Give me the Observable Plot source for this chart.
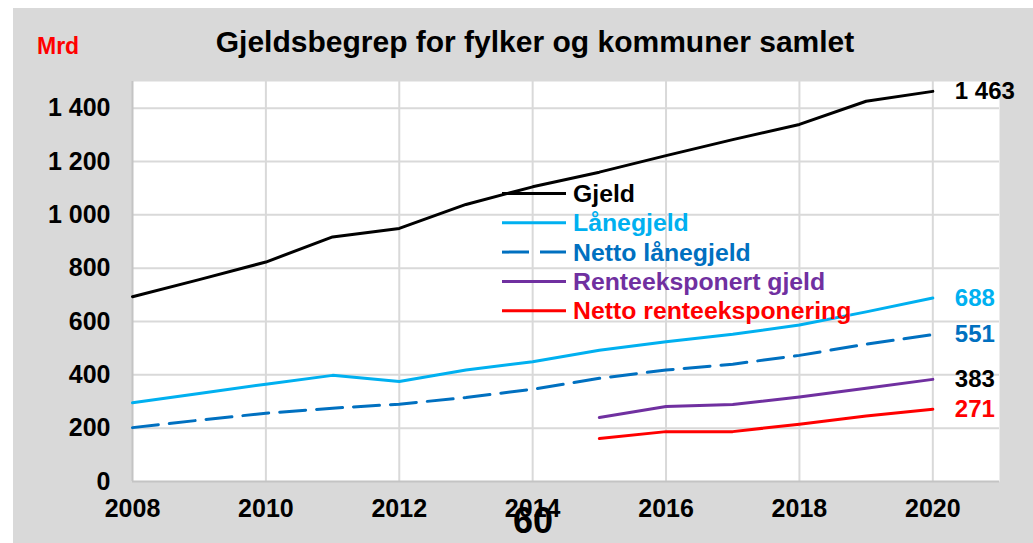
<!DOCTYPE html>
<html>
<head>
<meta charset="utf-8">
<script src="https://cdn.jsdelivr.net/npm/d3@7"></script>
<script src="https://cdn.jsdelivr.net/npm/@observablehq/plot@0.6"></script>
<style>
  html, body { margin: 0; padding: 0; background: #ffffff; }
  #wrap { position: relative; width: 1033px; height: 543px; overflow: hidden; font-family: "Liberation Sans", Arial, sans-serif; }
  #panel { position: absolute; left: 13px; top: 8px; width: 1020px; height: 535px; background: #d9d9d9; }
  #chart { position: absolute; left: 0; top: 0; }
  .abs { position: absolute; white-space: nowrap; font-weight: bold; }
  #title { left: 0; width: 1070px; text-align: center; top: 25px; font-size: 30px; color: #000; }
  #mrd { left: 37px; top: 33px; font-size: 23px; color: #ff0000; }
  #page { left: 513px; top: 500px; font-size: 36px; color: #000; }
  #legend { position: absolute; left: 0; top: 0; }
</style>
</head>
<body>
<div id="wrap">
  <div id="panel"></div>
  <div id="chart"></div>
  <div class="abs" id="title">Gjeldsbegrep for fylker og kommuner samlet</div>
  <div class="abs" id="mrd">Mrd</div>
  <div class="abs" id="page">60</div>
  <svg id="legend" width="1033" height="543"></svg>
</div>
<script>
// ---- data ----
const years = [2008, 2009, 2010, 2011, 2012, 2013, 2014, 2015, 2016, 2017, 2018, 2019, 2020];
const gjeld = [693, 757, 823, 917, 949, 1039, 1105, 1160, 1222, 1282, 1339, 1426, 1463];
const lanegjeld = [295, 330, 365, 398, 375, 418, 449, 492, 524, 552, 587, 636, 688];
const nettoLanegjeld = [202, 230, 256, 275, 290, 315, 346, 387, 418, 440, 473, 515, 551];
const renteYears = [2015, 2016, 2017, 2018, 2019, 2020];
const renteeksponert = [240, 281, 289, 317, 350, 383];
const nettoRente = [161, 187, 187, 215, 246, 271];

const seriesNames = ["Gjeld", "Lånegjeld", "Netto lånegjeld", "Renteeksponert gjeld", "Netto renteeksponering"];
const seriesColors = ["#000000", "#00b0f0", "#0070c0", "#7030a0", "#ff0000"];
const endLabelColors = ["#000000", "#00b0f0", "#0070c0", "#000000", "#ff0000"];
const xTicks = [2008, 2010, 2012, 2014, 2016, 2018, 2020];
const yTicks = [0, 200, 400, 600, 800, 1000, 1200, 1400];

// ---- build table ----
const seriesData = [
  [years, gjeld], [years, lanegjeld], [years, nettoLanegjeld],
  [renteYears, renteeksponert], [renteYears, nettoRente]
];
const rows = [];
seriesData.forEach(([xs, vs], i) => {
  xs.forEach((yr, j) => rows.push({series: seriesNames[i], year: yr, value: vs[j], idx: i}));
});
const lastRows = seriesNames.map(n => rows.filter(r => r.series === n).slice(-1)[0]);
const fmt = d => d3.format(",")(d).replace(/,/g, " ");

const solid = rows.filter(r => r.series !== "Netto lånegjeld");
const dashed = rows.filter(r => r.series === "Netto lånegjeld");

const chart = Plot.plot({
  width: 1033,
  height: 543,
  marginLeft: 132,
  marginRight: 34,
  marginTop: 81,
  marginBottom: 62,
  x: {domain: [2008, 2021]},
  y: {domain: [0, 1500]},
  color: {domain: seriesNames, range: seriesColors},
  style: {background: "transparent", fontFamily: "'Liberation Sans', Arial, sans-serif", color: "#000"},
  marks: [
    Plot.frame({fill: "#ffffff", stroke: null}),
    Plot.gridX(xTicks.slice(1), {stroke: "#d9d9d9", strokeOpacity: 1, strokeWidth: 2}),
    Plot.gridY(yTicks.slice(1), {stroke: "#d9d9d9", strokeOpacity: 1, strokeWidth: 2}),
    Plot.ruleX([2008], {stroke: "#c4c4c4", strokeWidth: 2}),
    Plot.ruleY([0], {stroke: "#c4c4c4", strokeWidth: 2}),
    Plot.line(dashed, {x: "year", y: "value", stroke: "series", strokeWidth: 3, strokeDasharray: "26,11"}),
    Plot.line(solid, {x: "year", y: "value", z: "series", stroke: "series", strokeWidth: 3}),
    Plot.axisX(xTicks, {tickSize: 0, tickPadding: 18, tickFormat: d => String(d), fontSize: 25, fontWeight: "bold", label: null}),
    Plot.axisY(yTicks, {tickSize: 0, tickPadding: 22, tickFormat: fmt, fontSize: 25, fontWeight: "bold", label: null}),
    Plot.text(lastRows, {x: "year", y: "value", text: d => fmt(d.value), dx: 22, textAnchor: "start",
      fill: d => endLabelColors[d.idx], fontSize: 24, fontWeight: "bold"})
  ]
});
document.getElementById("chart").appendChild(chart);

// ---- legend ----
const lg = d3.select("#legend");
const lx0 = 502, lx1 = 566, ltx = 573, ly0 = 193.5, lstep = 29.3;
seriesNames.forEach((name, i) => {
  const y = ly0 + i * lstep;
  lg.append("line").attr("x1", lx0).attr("x2", lx1).attr("y1", y).attr("y2", y)
    .attr("stroke", seriesColors[i]).attr("stroke-width", 3)
    .attr("stroke-dasharray", name === "Netto lånegjeld" ? "27,11" : null);
  lg.append("text").attr("x", ltx).attr("y", y).attr("dy", "0.35em")
    .attr("fill", seriesColors[i]).attr("font-size", 24.8).attr("font-weight", "bold")
    .attr("font-family", "'Liberation Sans', Arial, sans-serif").text(name);
});
</script>
</body>
</html>
